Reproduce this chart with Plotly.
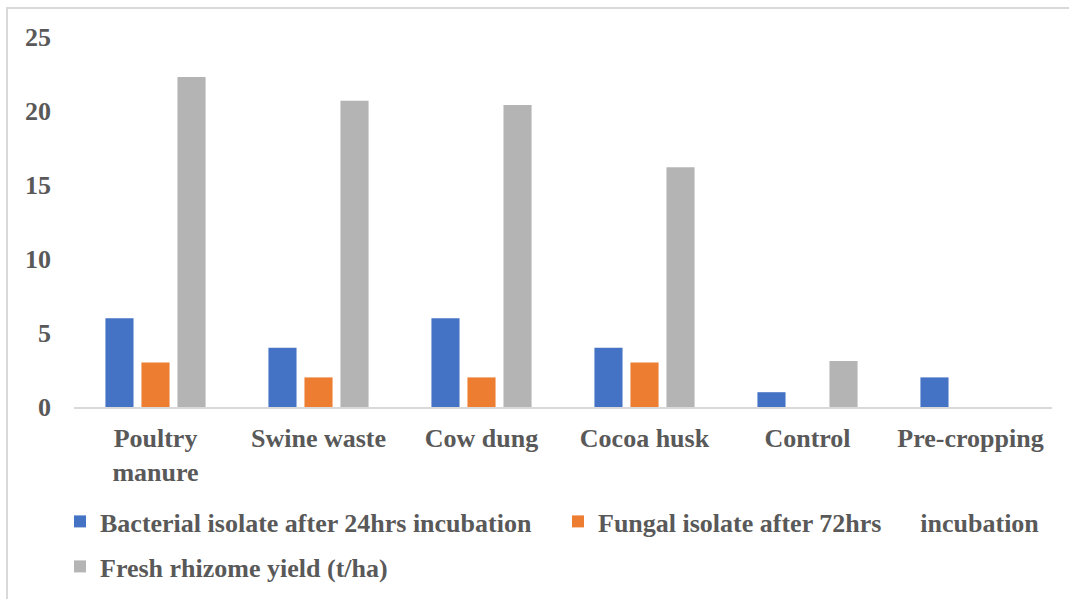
import plotly.graph_objects as go

categories = ["Poultry<br>manure", "Swine waste", "Cow dung", "Cocoa husk", "Control", "Pre-cropping"]
bacterial = [6, 4, 6, 4, 1, 2]
fungal = [3, 2, 2, 3, 0, 0]
rhizome_yield = [22.3, 20.7, 20.4, 16.2, 3.1, 0]
y_ticks = [0, 5, 10, 15, 20, 25]

series_names = [
    "Bacterial isolate after 24hrs incubation",
    "Fungal isolate after 72hrs" + "\u00a0" * 5 + " incubation",
    "Fresh rhizome yield (t/ha)",
]
series_values = [bacterial, fungal, rhizome_yield]
series_colors = ["#4472C4", "#ED7D31", "#B4B4B4"]

font_family = "Liberation Serif, Times New Roman, serif"
text_color = "#595959"
label_font = dict(family=font_family, size=26, color=text_color, weight="bold")

W, H = 1069, 599
L, R, T, B = 74, 17, 37, 192
pw, ph = W - L - R, H - T - B


def px_x(x):
    return (x - L) / pw


def px_y(y):
    return (T + ph - y) / ph


# one legend box per series so each entry sits where it should (container pixels)
legend_spots = [(60, 498), (558, 498), (60, 543)]
legend_ids = ["legend", "legend2", "legend3"]

fig = go.Figure()
for name, values, color, lid in zip(series_names, series_values, series_colors, legend_ids):
    fig.add_trace(go.Bar(
        x=categories, y=values, name=name, legend=lid,
        marker=dict(color=color, line=dict(width=0)),
    ))

legend_layout = {}
for lid, (lx, ly) in zip(legend_ids, legend_spots):
    legend_layout[lid] = dict(
        orientation="h", xref="container", yref="container",
        x=lx / W, xanchor="left", y=1 - ly / H, yanchor="top",
        font=label_font, itemwidth=30, bgcolor="rgba(0,0,0,0)", borderwidth=0,
    )

fig.update_layout(
    width=W, height=H, autosize=False,
    margin=dict(l=L, r=R, t=T, b=B, autoexpand=False),
    paper_bgcolor="white", plot_bgcolor="white",
    barmode="group", bargap=0.337, bargroupgap=0.22,
    font=label_font,
    showlegend=True,
    xaxis=dict(
        showline=True, linecolor="#D9D9D9", linewidth=2, automargin=False,
        showgrid=False, ticks="", ticklabelstandoff=7,
        tickfont=label_font,
    ),
    yaxis=dict(
        range=[0, 25], tickvals=y_ticks, showgrid=False, zeroline=False,
        showline=False, ticks="", ticklabelstandoff=22, automargin=False,
        tickfont=label_font,
    ),
    shapes=[dict(
        type="rect", xref="paper", yref="paper",
        x0=px_x(7), x1=px_x(W + 60),
        y0=px_y(H + 60), y1=px_y(8),
        line=dict(color="#D9D9D9", width=2), fillcolor="rgba(0,0,0,0)", layer="below",
    )],
    **legend_layout,
)

fig.write_html("out.html")
